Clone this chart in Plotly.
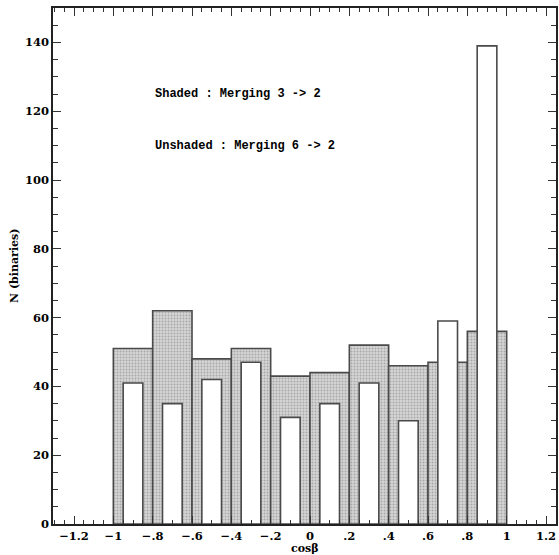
import plotly.graph_objects as go

# Data
bin_centers = [-0.9, -0.7, -0.5, -0.3, -0.1, 0.1, 0.3, 0.5, 0.7, 0.9]
shaded_counts = [51, 62, 48, 51, 43, 44, 52, 46, 47, 56]      # Merging 3 -> 2
unshaded_counts = [41, 35, 42, 47, 31, 35, 41, 30, 59, 139]   # Merging 6 -> 2
shaded_width = 0.2
unshaded_width = 0.1

x_tickvals = [-1.2, -1.0, -0.8, -0.6, -0.4, -0.2, 0.0, 0.2, 0.4, 0.6, 0.8, 1.0, 1.2]
x_ticktext = ["\u22121.2", "\u22121", "\u2212.8", "\u2212.6", "\u2212.4", "\u2212.2", "0",
              ".2", ".4", ".6", ".8", "1", "1.2"]
y_tickvals = [0, 20, 40, 60, 80, 100, 120, 140]

outline = "#4a4a4a"
tick_font = dict(family="DejaVu Serif", size=11.5, color="black", weight="bold")

fig = go.Figure()
fig.add_trace(go.Bar(
    x=bin_centers, y=shaded_counts, width=[shaded_width] * len(bin_centers),
    marker=dict(color="#d2d2d2", line=dict(color=outline, width=1.6),
                pattern=dict(shape=".", fgcolor="#a8a8a8", bgcolor="#d6d6d6",
                             size=3, solidity=0.35, fillmode="replace")),
    name="Shaded", showlegend=False,
))
fig.add_trace(go.Bar(
    x=bin_centers, y=unshaded_counts, width=[unshaded_width] * len(bin_centers),
    marker=dict(color="white", line=dict(color=outline, width=1.6)),
    name="Unshaded", showlegend=False,
))

fig.update_layout(
    width=559, height=555,
    margin=dict(l=53, r=3, t=8, b=31),
    barmode="overlay",
    plot_bgcolor="white", paper_bgcolor="white",
    xaxis=dict(
        range=[-1.3068, 1.2508], tickmode="array", tickvals=x_tickvals, ticktext=x_ticktext,
        ticks="inside", ticklen=8, tickwidth=1, tickcolor="#333",
        minor=dict(dtick=0.05, tick0=0, ticks="inside", ticklen=4, tickcolor="#333", tickwidth=1),
        showline=True, linecolor="#222", linewidth=1.5, mirror="allticks",
        showgrid=False, zeroline=False, tickfont=tick_font, automargin=False,
    ),
    yaxis=dict(
        range=[0, 150], tickmode="array", tickvals=y_tickvals,
        ticks="inside", ticklen=8, tickwidth=1, tickcolor="#333",
        minor=dict(dtick=5, tick0=0, ticks="inside", ticklen=5, tickcolor="#333", tickwidth=1),
        showline=True, linecolor="#222", linewidth=1.5, mirror="allticks",
        showgrid=False, zeroline=False, tickfont=tick_font, automargin=False,
    ),
    annotations=[
        dict(x=-0.8, y=125, xref="x", yref="y", xanchor="left", yanchor="middle",
             text="Shaded : Merging 3 -> 2", showarrow=False,
             font=dict(family="Liberation Mono", size=12, color="black", weight="bold")),
        dict(x=-0.8, y=110, xref="x", yref="y", xanchor="left", yanchor="middle",
             text="Unshaded : Merging 6 -> 2", showarrow=False,
             font=dict(family="Liberation Mono", size=12, color="black", weight="bold")),
        dict(x=0.5, y=0, xref="paper", yref="paper", yshift=-24,
             xanchor="center", yanchor="middle", text="cos\u03b2", showarrow=False,
             font=dict(family="DejaVu Serif", size=11, color="black", weight="bold")),
        dict(x=0, y=0.5, xref="paper", yref="paper", xshift=-39,
             text="N (binaries)", textangle=-90, showarrow=False,
             xanchor="center", yanchor="middle",
             font=dict(family="DejaVu Serif", size=11, color="black", weight="bold")),
    ],
)

fig.write_html("out.html", config={"displayModeBar": False},
               post_script="document.body.style.margin='0';document.body.style.overflow='hidden';")
